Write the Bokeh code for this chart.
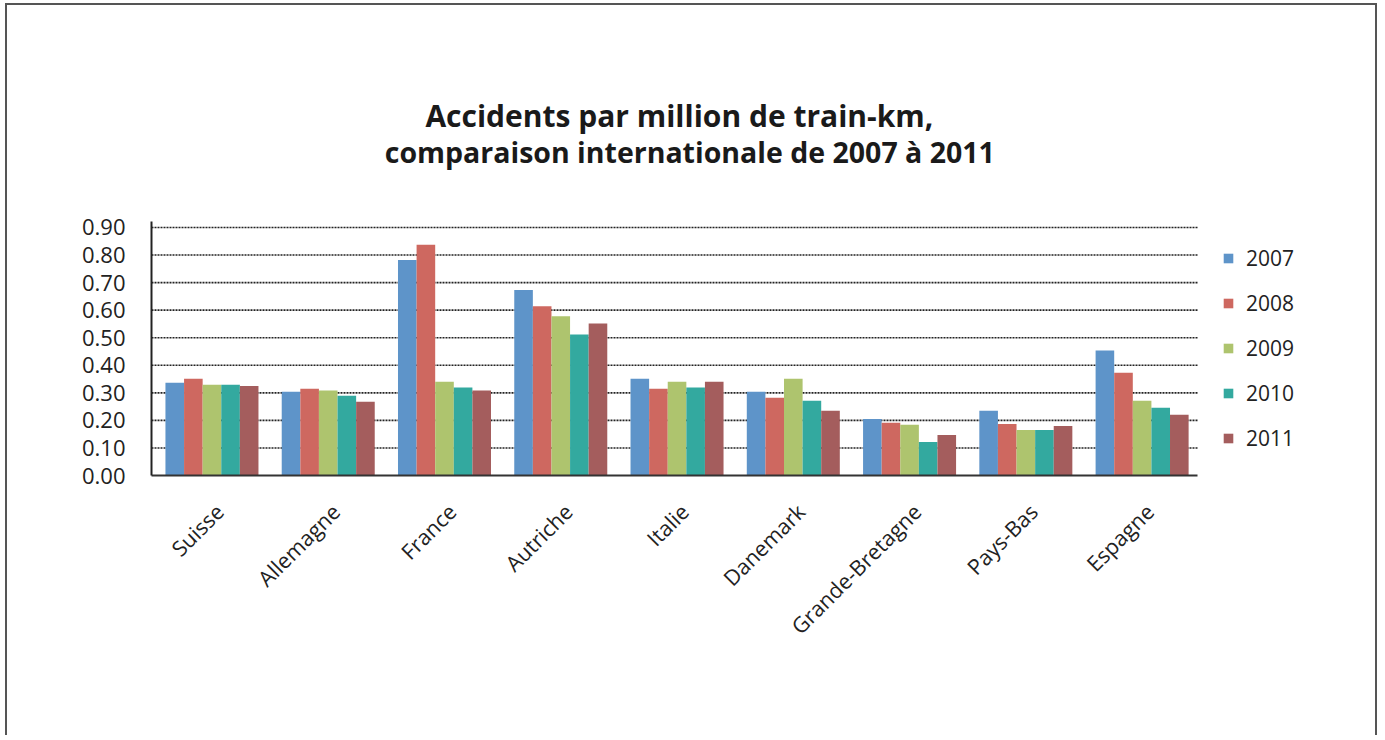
from math import pi
from bokeh.plotting import figure
from bokeh.models import (ColumnDataSource, Range1d, FixedTicker, CustomJSTickFormatter,
                          NumeralTickFormatter, Legend, LegendItem, Label)
from bokeh.transform import dodge
from bokeh.embed import file_html
from bokeh.resources import INLINE

countries = ["Suisse", "Allemagne", "France", "Autriche", "Italie", "Danemark",
             "Grande-Bretagne", "Pays-Bas", "Espagne"]
years = ["2007", "2008", "2009", "2010", "2011"]
v2007 = [0.337, 0.304, 0.782, 0.673, 0.351, 0.304, 0.205, 0.235, 0.454]
v2008 = [0.351, 0.315, 0.837, 0.614, 0.315, 0.282, 0.191, 0.187, 0.373]
v2009 = [0.329, 0.308, 0.340, 0.578, 0.340, 0.351, 0.184, 0.165, 0.271]
v2010 = [0.329, 0.289, 0.319, 0.512, 0.319, 0.271, 0.122, 0.165, 0.246]
v2011 = [0.325, 0.268, 0.308, 0.552, 0.340, 0.235, 0.147, 0.180, 0.220]
colors = ["#5E94C9", "#CE6860", "#AEC46E", "#33A99F", "#A45D5D"]
y_ticks = [0.0, 0.1, 0.2, 0.3, 0.4, 0.5, 0.6, 0.7, 0.8, 0.9]
title_lines = ["Accidents par million de train-km,",
               "comparaison internationale de 2007 à 2011"]

FONT = "Open Sans"
n = len(countries)
xs = [i + 0.5 for i in range(n)]          # category centres
Y_TOP = 0.922                             # top of the value axis
LABEL_SHIFT = 0.085                       # rotated labels sit a little right

source = ColumnDataSource(dict(x=xs, y2007=v2007, y2008=v2008,
                               y2009=v2009, y2010=v2010, y2011=v2011))

# frame covers the whole drawing area; the category part spans 1043 px
FRAME_W, CAT_W = 1222, 1043
FRAME_H, VAL_H = 464, 274.4
p = figure(width=1372, height=732,
           x_range=Range1d(0, n * FRAME_W / CAT_W),
           y_range=Range1d(0, FRAME_H / VAL_H),
           output_backend="svg", toolbar_location=None,
           min_border_left=144, min_border_right=2, min_border_top=4,
           min_border_bottom=262)
p.styles = {"border-top": "2px solid #555555", "border-left": "2px solid #555555",
            "border-right": "2px solid #555555", "margin-left": "5px",
            "margin-top": "3px"}
p.outline_line_color = None
p.background_fill_color = "white"
p.border_fill_color = "white"

# dotted horizontal grid over the category part only
grid_y = y_ticks[1:]
p.segment(x0=[0] * len(grid_y), x1=[n] * len(grid_y), y0=grid_y, y1=grid_y,
          line_color="#222222", line_width=1.6, line_dash="2 1")

bw = 0.16
offsets = [-2 * bw, -bw, 0.0, bw, 2 * bw]
items = []
for yr, col, off in zip(years, colors, offsets):
    r = p.vbar(x=dodge("x", off + 0.02), top="y" + yr, width=bw,
               source=source, fill_color=col, line_color=None)
    items.append(LegendItem(label=yr, renderers=[r]))

p.xgrid.grid_line_color = None
p.ygrid.grid_line_color = None

# value axis
p.yaxis.ticker = FixedTicker(ticks=y_ticks)
p.yaxis.bounds = (0, Y_TOP)
p.yaxis.formatter = NumeralTickFormatter(format="0.00")
p.yaxis.major_tick_line_color = None
p.yaxis.minor_tick_line_color = None
p.yaxis.axis_line_color = "#222222"
p.yaxis.axis_line_width = 2
p.yaxis.major_label_standoff = 20
p.yaxis.major_label_text_font = FONT
p.yaxis.major_label_text_font_size = "22px"
p.yaxis.major_label_text_color = "#222222"

# category axis
p.xaxis.ticker = FixedTicker(ticks=[x + LABEL_SHIFT for x in xs])
p.xaxis.formatter = CustomJSTickFormatter(args=dict(names=countries),
                                          code="return names[Math.floor(tick)];")
p.xaxis.bounds = (0, n)
p.xaxis.major_tick_line_color = None
p.xaxis.minor_tick_line_color = None
p.xaxis.axis_line_color = "#333333"
p.xaxis.axis_line_width = 2
p.xaxis.major_label_orientation = pi / 4
p.xaxis.major_label_standoff = 26
p.xaxis.major_label_text_font = FONT
p.xaxis.major_label_text_font_size = "21.5px"
p.xaxis.major_label_text_color = "#222222"

legend = Legend(items=items, location=(1071, 23), margin=0, padding=0,
                spacing=17, glyph_width=12, glyph_height=12, label_height=24,
                label_standoff=12, border_line_color=None,
                background_fill_alpha=0, label_text_font=FONT,
                label_text_font_size="21px", label_text_color="#222222")
p.add_layout(legend)

for txt, xc, yb, fs in zip(title_lines, [4.54, 4.63], [1.308, 1.173],
                           ["30px", "28.5px"]):
    p.add_layout(Label(x=xc, y=yb, text=txt, text_align="center",
                       text_baseline="alphabetic", text_font=FONT,
                       text_font_size=fs, text_font_style="bold",
                       text_color="#1a1a1a"))

open("out.html", "w").write(file_html(p, INLINE))
